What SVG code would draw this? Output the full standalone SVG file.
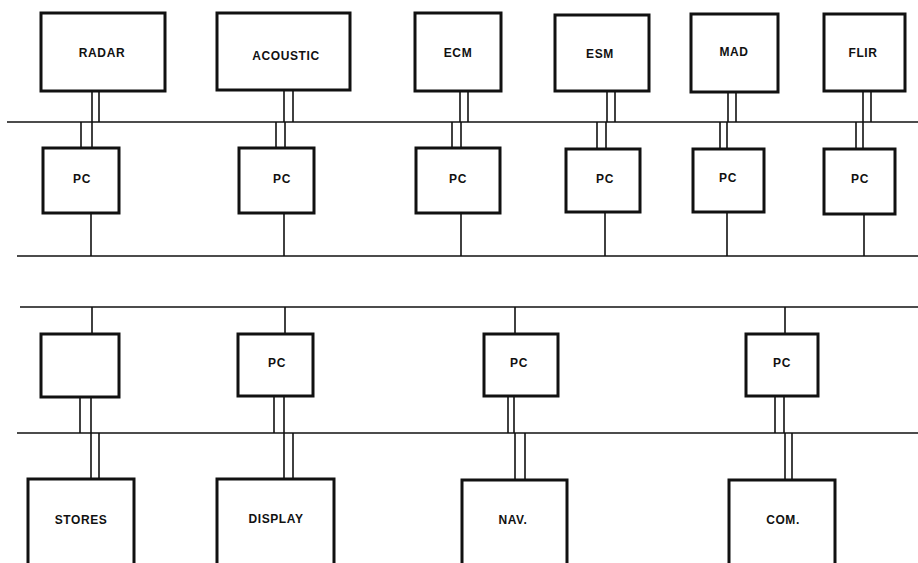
<svg xmlns="http://www.w3.org/2000/svg" width="918" height="563" viewBox="0 0 918 563">
<style>
.box{fill:#fff;stroke:#111;stroke-width:3}
.bus{stroke:#111;stroke-width:1.6;fill:none}
.ln{stroke:#111;stroke-width:1.6;fill:none}
.t{font-family:"Liberation Sans",Arial,sans-serif;font-weight:bold;font-size:12px;letter-spacing:0.6px;fill:#111;text-anchor:middle}
</style>
<rect width="918" height="563" fill="#fff"/>
<g id="connectors">
<line class="bus" x1="7" y1="122" x2="918" y2="122"/>
<line class="bus" x1="17" y1="256" x2="918" y2="256"/>
<line class="bus" x1="20" y1="307" x2="918" y2="307"/>
<line class="bus" x1="17" y1="433" x2="918" y2="433"/>
<line class="ln" x1="92" y1="91" x2="92" y2="122"/><line class="ln" x1="99" y1="91" x2="99" y2="122"/>
<line class="ln" x1="81" y1="122" x2="81" y2="148"/><line class="ln" x1="92" y1="122" x2="92" y2="148"/>
<line class="ln" x1="91" y1="213" x2="91" y2="256"/>
<line class="ln" x1="284" y1="90" x2="284" y2="122"/><line class="ln" x1="293" y1="90" x2="293" y2="122"/>
<line class="ln" x1="276" y1="122" x2="276" y2="148"/><line class="ln" x1="285" y1="122" x2="285" y2="148"/>
<line class="ln" x1="284" y1="213" x2="284" y2="256"/>
<line class="ln" x1="460" y1="91" x2="460" y2="122"/><line class="ln" x1="468" y1="91" x2="468" y2="122"/>
<line class="ln" x1="452" y1="122" x2="452" y2="148"/><line class="ln" x1="461" y1="122" x2="461" y2="148"/>
<line class="ln" x1="461" y1="213" x2="461" y2="256"/>
<line class="ln" x1="607" y1="91" x2="607" y2="122"/><line class="ln" x1="615" y1="91" x2="615" y2="122"/>
<line class="ln" x1="597" y1="122" x2="597" y2="149"/><line class="ln" x1="606" y1="122" x2="606" y2="149"/>
<line class="ln" x1="605" y1="212" x2="605" y2="256"/>
<line class="ln" x1="728" y1="92" x2="728" y2="122"/><line class="ln" x1="736" y1="92" x2="736" y2="122"/>
<line class="ln" x1="720" y1="122" x2="720" y2="149"/><line class="ln" x1="727" y1="122" x2="727" y2="149"/>
<line class="ln" x1="727" y1="212" x2="727" y2="256"/>
<line class="ln" x1="863" y1="91" x2="863" y2="122"/><line class="ln" x1="871" y1="91" x2="871" y2="122"/>
<line class="ln" x1="856" y1="122" x2="856" y2="149"/><line class="ln" x1="863" y1="122" x2="863" y2="149"/>
<line class="ln" x1="864" y1="214" x2="864" y2="256"/>
<line class="ln" x1="92" y1="307" x2="92" y2="334"/>
<line class="ln" x1="80" y1="397" x2="80" y2="433"/><line class="ln" x1="91" y1="397" x2="91" y2="433"/>
<line class="ln" x1="91" y1="433" x2="91" y2="479"/><line class="ln" x1="99" y1="433" x2="99" y2="479"/>
<line class="ln" x1="285" y1="307" x2="285" y2="334"/>
<line class="ln" x1="274" y1="396" x2="274" y2="433"/><line class="ln" x1="284" y1="396" x2="284" y2="433"/>
<line class="ln" x1="284" y1="433" x2="284" y2="479"/><line class="ln" x1="293" y1="433" x2="293" y2="479"/>
<line class="ln" x1="515" y1="307" x2="515" y2="334"/>
<line class="ln" x1="508" y1="396" x2="508" y2="433"/><line class="ln" x1="514" y1="396" x2="514" y2="433"/>
<line class="ln" x1="515" y1="433" x2="515" y2="480"/><line class="ln" x1="525" y1="433" x2="525" y2="480"/>
<line class="ln" x1="785" y1="307" x2="785" y2="334"/>
<line class="ln" x1="775" y1="396" x2="775" y2="433"/><line class="ln" x1="784" y1="396" x2="784" y2="433"/>
<line class="ln" x1="785" y1="433" x2="785" y2="480"/><line class="ln" x1="792" y1="433" x2="792" y2="480"/>
</g>
<g id="radar"><rect class="box" x="41" y="13" width="124" height="78"/><text class="t" x="102" y="57">RADAR</text></g>
<g id="acoustic"><rect class="box" x="217" y="13" width="133" height="77"/><text class="t" x="286" y="60">ACOUSTIC</text></g>
<g id="ecm"><rect class="box" x="415" y="13" width="86" height="78"/><text class="t" x="458" y="57">ECM</text></g>
<g id="esm"><rect class="box" x="555" y="15" width="94" height="76"/><text class="t" x="600" y="58">ESM</text></g>
<g id="mad"><rect class="box" x="691" y="14" width="87" height="78"/><text class="t" x="734" y="56">MAD</text></g>
<g id="flir"><rect class="box" x="824" y="14" width="81" height="77"/><text class="t" x="863" y="57">FLIR</text></g>
<g id="pc-radar"><rect class="box" x="43" y="148" width="76" height="65"/><text class="t" x="82" y="183">PC</text></g>
<g id="pc-acoustic"><rect class="box" x="239" y="148" width="75" height="65"/><text class="t" x="282" y="183">PC</text></g>
<g id="pc-ecm"><rect class="box" x="416" y="148" width="84" height="65"/><text class="t" x="458" y="183">PC</text></g>
<g id="pc-esm"><rect class="box" x="566" y="149" width="74" height="63"/><text class="t" x="605" y="183">PC</text></g>
<g id="pc-mad"><rect class="box" x="693" y="149" width="71" height="63"/><text class="t" x="728" y="182">PC</text></g>
<g id="pc-flir"><rect class="box" x="824" y="149" width="71" height="65"/><text class="t" x="860" y="183">PC</text></g>
<g id="pc-stores"><rect class="box" x="41" y="334" width="78" height="63"/></g>
<g id="pc-display"><rect class="box" x="238" y="334" width="75" height="62"/><text class="t" x="277" y="367">PC</text></g>
<g id="pc-nav"><rect class="box" x="484" y="334" width="74" height="62"/><text class="t" x="519" y="367">PC</text></g>
<g id="pc-com"><rect class="box" x="746" y="334" width="72" height="62"/><text class="t" x="782" y="367">PC</text></g>
<g id="stores"><path class="box" d="M28,566 V479 H134 V566"/><text class="t" x="81" y="524">STORES</text></g>
<g id="display"><path class="box" d="M217,566 V479 H334 V566"/><text class="t" x="276" y="523">DISPLAY</text></g>
<g id="nav"><path class="box" d="M462,566 V480 H567 V566"/><text class="t" x="513" y="524">NAV.</text></g>
<g id="com"><path class="box" d="M729,566 V480 H835 V566"/><text class="t" x="783" y="524">COM.</text></g>
</svg>
